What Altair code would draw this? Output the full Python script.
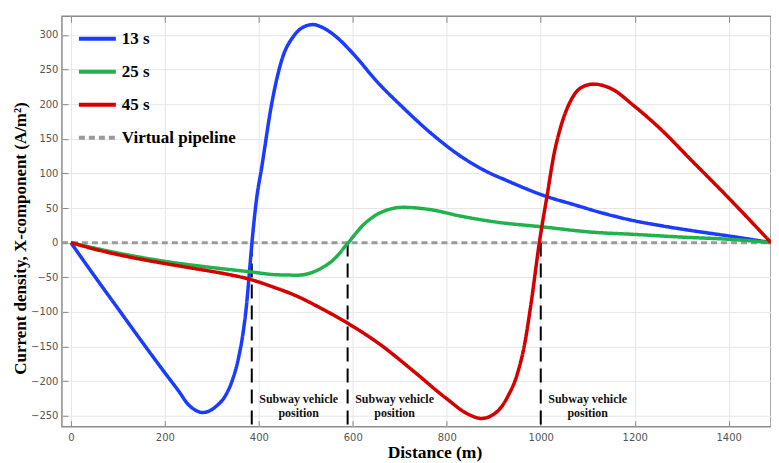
import altair as alt
import pandas as pd

SERIES = ["13 s", "25 s", "45 s", "Virtual pipeline"]
COLORS = ["#1b3cff", "#22b24c", "#d40000", "#9a9a9a"]
DASHES = [[1, 0], [1, 0], [1, 0], [6, 4]]

# 13 s
d13 = [0, 50, 100, 150, 200, 230, 250, 265, 280, 295, 310, 329, 343, 357, 367, 374, 379, 385,
       395, 406, 427, 448, 476, 500, 515, 535, 560, 602, 651, 707, 770, 825, 881, 930,
       1011, 1070, 1130, 1196, 1260, 1315, 1406, 1490]
v13 = [0, -48, -95, -142, -188, -215, -234, -242, -245.5, -243, -236, -221, -200, -166, -128, -89, -51, -3,
       62, 108, 199, 262, 300, 313, 315, 311, 300, 272, 233, 195, 156, 127, 104, 89,
       67, 55, 43, 32, 24, 18, 9, 0]
# 25 s
d25 = [0, 100, 200, 300, 380, 440, 483, 530, 560, 588, 623, 658, 707, 762, 832, 902, 1000,
       1112, 1196, 1300, 1406, 1490]
v25 = [0, -15, -27, -36, -42, -46.5, -47, -38, -24, -2, 26, 43, 51, 48, 38, 30, 23,
       15, 12, 8, 4.6, 0]
# 45 s
d45 = [0, 60, 119, 190, 259, 320, 381, 430, 480, 530, 588, 658, 728, 797, 846, 874, 909, 930,
       950, 965, 980, 997, 1014, 1028, 1042, 1063, 1084, 1112, 1154, 1196, 1252, 1322, 1392, 1490]
v45 = [0, -11, -20, -29, -37, -44, -53, -64, -77, -94, -116, -147, -185, -224, -248, -254, -243, -222,
       -190, -149, -85, 0, 70, 127, 166, 204, 223, 229, 221, 199, 166, 118, 70, 0]
# virtual pipeline
dpipe = [-19, 1490]
vpipe = [0, 0]

# subway vehicle positions
vehicle_pos = [385, 589, 1000]
vehicle_label = "Subway vehicle\nposition"
label_v = -226

X_DOMAIN = [-19, 1490]
Y_DOMAIN = [-266, 327]
x_ticks = [0, 200, 400, 600, 800, 1000, 1200, 1400]
y_ticks = [-250, -200, -150, -100, -50, 0, 50, 100, 150, 200, 250, 300]

rows = []
for name, ds, vs in [("13 s", d13, v13), ("25 s", d25, v25), ("45 s", d45, v45)]:
    for i, (d, v) in enumerate(zip(ds, vs)):
        rows.append({"series": name, "d": d, "v": v, "i": i})
curves = pd.DataFrame(rows)
pipe = pd.DataFrame({"series": "Virtual pipeline", "d": dpipe, "v": vpipe, "i": [0, 1]})
veh = pd.DataFrame({"d": vehicle_pos, "v": [0] * 3, "v1": [Y_DOMAIN[0]] * 3,
                    "lab": [vehicle_label] * 3, "lv": [label_v] * 3})

xscale = alt.Scale(domain=X_DOMAIN, nice=False, zero=False)
yscale = alt.Scale(domain=Y_DOMAIN, nice=False, zero=False)

legend = alt.Legend(orient="none", legendX=15, legendY=2, title=None,
                    symbolType="stroke", symbolSize=1369, symbolStrokeWidth=4,
                    labelFont="Liberation Serif", labelFontWeight="bold",
                    labelFontSize=17, labelColor="black", labelOffset=4,
                    rowPadding=4, padding=0)
color = alt.Color("series:N", scale=alt.Scale(domain=SERIES, range=COLORS), legend=legend)
dash = alt.StrokeDash("series:N", scale=alt.Scale(domain=SERIES, range=DASHES), legend=legend)

x_bottom = alt.Axis(values=x_ticks, format="d", offset=-6, domain=False, tickSize=6,
                    tickColor="#888", labelPadding=6, labelFont="DejaVu Sans",
                    labelFontSize=10, labelColor="#555", grid=True, gridColor="#e6e6e6",
                    title="Distance (m)", titleFont="Liberation Serif", titleFontSize=17.5,
                    titleFontWeight="bold", titleColor="black", titlePadding=1,
                    titleX=373, titleAlign="center")
x_top = alt.Axis(orient="top", values=x_ticks, offset=-6, domain=False, tickSize=6,
                 tickColor="#888", labels=False, grid=False, title=None)
y_left = alt.Axis(values=y_ticks, format="d", offset=-6, domain=False, tickSize=6,
                  tickColor="#888", labelPadding=4, labelFont="DejaVu Sans",
                  labelFontSize=10, labelColor="#555", grid=True, gridColor="#e6e6e6",
                  title="Current density, X-component (A/m²)", titleFont="Liberation Serif",
                  titleFontSize=17, titleFontWeight="bold", titleColor="black",
                  titleX=-47, titleY=222, titleAngle=270, titleBaseline="middle",
                  titleAlign="center")

Y = alt.Y("v:Q", scale=yscale, axis=y_left)

pipe_layer = alt.Chart(pipe).mark_line(strokeWidth=3, clip=True).encode(
    x=alt.X("d:Q", scale=xscale, axis=x_top),
    y=Y, color=color, strokeDash=dash, order="i:Q")

rule_layer = alt.Chart(veh).mark_rule(color="black", strokeWidth=2, strokeDash=[14, 7]).encode(
    x=alt.X("d:Q", scale=xscale, axis=None),
    y=Y, y2="v1:Q")

text_layer = alt.Chart(veh).mark_text(font="Liberation Serif", fontWeight="bold", fontSize=12,
                                      lineBreak="\n", lineHeight=14, dx=47, align="center",
                                      baseline="middle", color="#111").encode(
    x=alt.X("d:Q", scale=xscale, axis=None),
    y=alt.Y("lv:Q", scale=yscale, axis=y_left),
    text="lab:N")

curve_layer = alt.Chart(curves).mark_line(strokeWidth=3.5, interpolate="monotone", clip=True).encode(
    x=alt.X("d:Q", scale=xscale, axis=x_bottom),
    y=Y, color=color, strokeDash=dash, order="i:Q")

chart = alt.layer(pipe_layer, rule_layer, text_layer, curve_layer).resolve_axis(
    x="independent").properties(
    width=710, height=411, background="white",
    padding={"left": 3, "top": 7, "right": 0, "bottom": 0}
).configure_view(stroke="#8c8c8c", strokeWidth=1.5)

chart.save("out.html", embed_options={"renderer": "svg", "actions": False})
